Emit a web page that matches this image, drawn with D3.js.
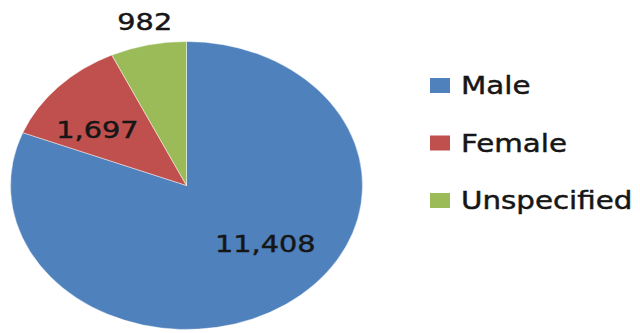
<!DOCTYPE html>
<html>
<head>
<meta charset="utf-8">
<script src="https://cdn.jsdelivr.net/npm/d3@7"></script>
<style>
  html, body { margin: 0; padding: 0; background: #fff; }
  svg { display: block; }
</style>
</head>
<body>
<svg id="chart" width="640" height="333"></svg>
<script>
// Respondents by gender
const categories = ["Male", "Female", "Unspecified"];
const counts = [11408, 1697, 982];
const colors = ["#4f81bd", "#c0504d", "#9bbb59"];

// Label placement per slice: radius as a fraction of the pie, angular nudge (degrees)
const labelRadius = [0.60, 0.64, 1.165];
const labelNudge = [-14, -5.5, 0.8];

const W = 640, H = 333;
const cx = 186.5, cy = 185.5;     // pie centre
const ry = 144, rx = 176;          // the pie is drawn as an ellipse
const stretch = rx / ry;
const fontFamily = "'DejaVu Sans', 'Open Sans', sans-serif";
const labelSize = 23.5;
const legendSize = 24;
const inkColor = "#161616";

const svg = d3.select("#chart");

const data = categories.map((name, i) => ({ name, value: counts[i], color: colors[i] }));
const pie = d3.pie().sort(null).value(d => d.value);
const arcs = pie(data);
const arc = d3.arc().innerRadius(0).outerRadius(ry);

const pieG = svg.append("g")
  .attr("transform", `translate(${cx},${cy}) scale(${stretch},1)`);

pieG.selectAll("path.slice")
  .data(arcs)
  .join("path")
  .attr("class", "slice")
  .attr("d", arc)
  .attr("fill", d => d.data.color)
  .attr("stroke", "#ffffff")
  .attr("stroke-opacity", 0.45)
  .attr("stroke-width", 1)
  .attr("vector-effect", "non-scaling-stroke");

// value labels
const fmt = d3.format(",");
const toRad = Math.PI / 180;
svg.append("g").selectAll("text.value")
  .data(arcs)
  .join("text")
  .attr("class", "value")
  .attr("transform", (d, i) => {
    const a = (d.startAngle + d.endAngle) / 2 + labelNudge[i] * toRad;
    const x = cx + rx * labelRadius[i] * Math.sin(a);
    const y = cy - ry * labelRadius[i] * Math.cos(a);
    return `translate(${x},${y}) scale(${stretch},1)`;
  })
  .attr("text-anchor", "middle")
  .attr("dy", "0.36em")
  .attr("font-family", fontFamily)
  .attr("font-size", labelSize)
  .attr("fill", inkColor)
  .attr("stroke", inkColor)
  .attr("stroke-width", 0.45)
  .text(d => fmt(d.data.value));

// legend
const legendX = 430, legendY0 = 85.5, legendStep = 57.5;
const swatchW = 20, swatchH = 15;
const legend = svg.append("g").selectAll("g.item")
  .data(data)
  .join("g")
  .attr("class", "item")
  .attr("transform", (d, i) => `translate(${legendX},${legendY0 + i * legendStep})`);

legend.append("rect")
  .attr("x", 0)
  .attr("y", -swatchH / 2)
  .attr("width", swatchW)
  .attr("height", swatchH)
  .attr("fill", d => d.color);

legend.append("text")
  .attr("transform", `translate(${swatchW + 11},0) scale(${stretch},1)`)
  .attr("dy", "0.36em")
  .attr("font-family", fontFamily)
  .attr("font-size", legendSize)
  .attr("fill", inkColor)
  .attr("stroke", inkColor)
  .attr("stroke-width", 0.45)
  .text(d => d.name);
</script>
</body>
</html>
